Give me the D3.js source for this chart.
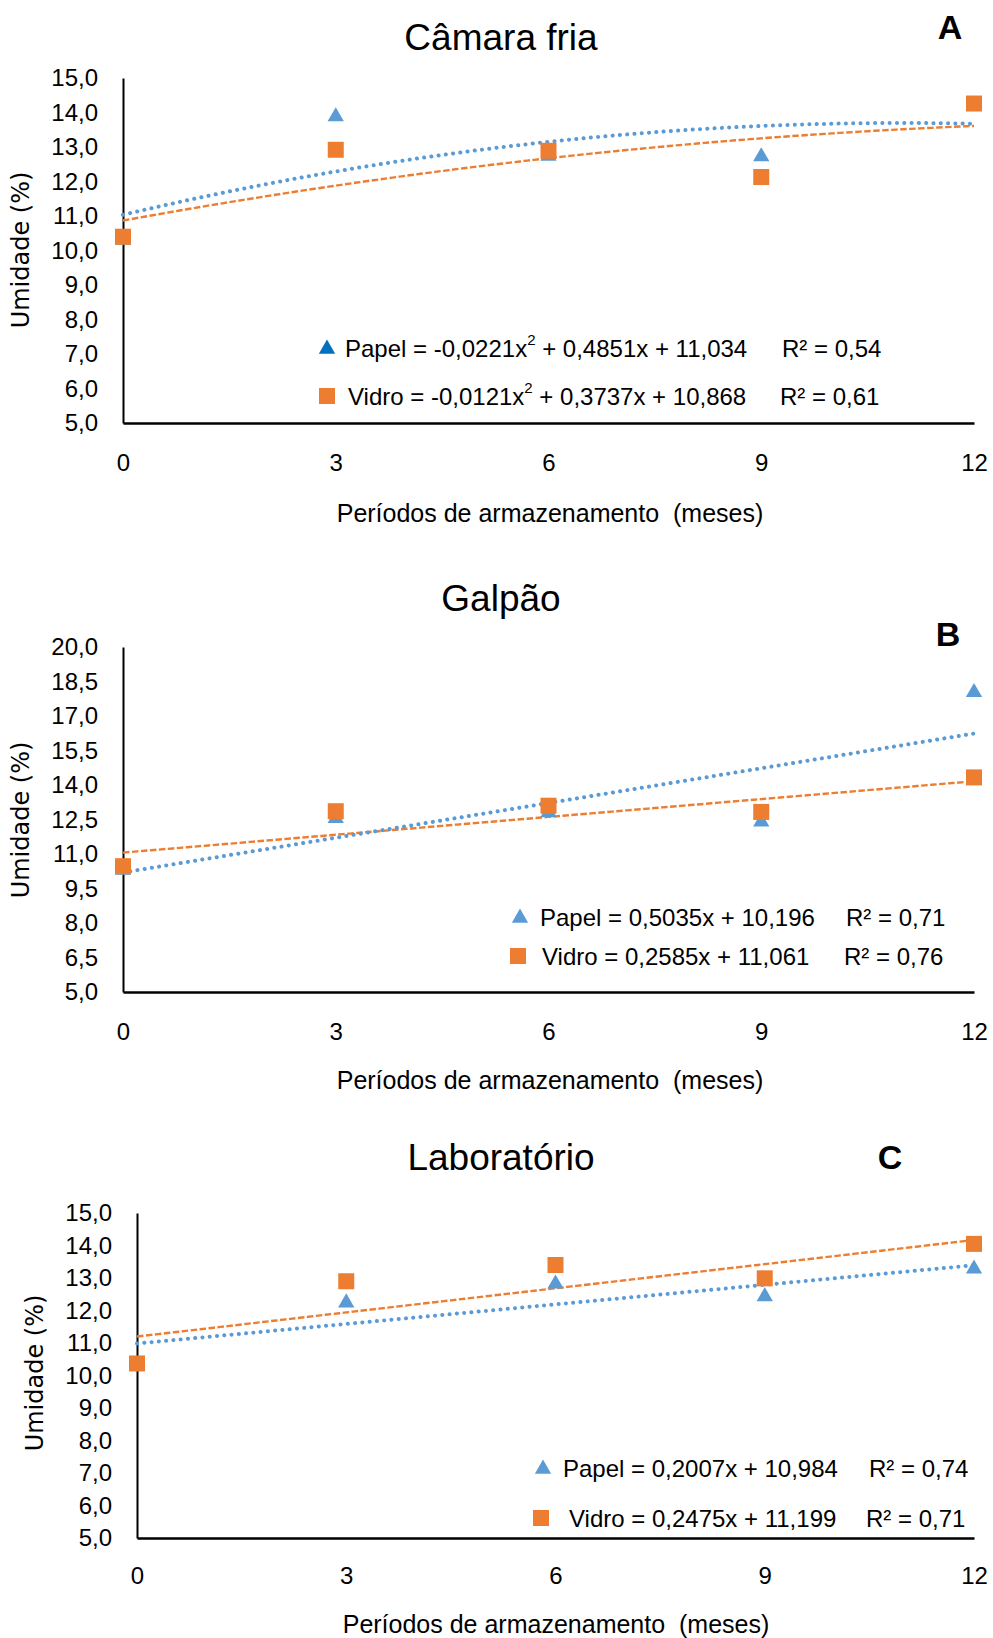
<!DOCTYPE html>
<html>
<head>
<meta charset="utf-8">
<script src="https://cdn.jsdelivr.net/npm/d3@7"></script>
<style>
  html, body { margin: 0; padding: 0; background: #fff; }
  svg { display: block; font-family: "Liberation Sans", Arial, sans-serif; }
  .pre { white-space: pre; }
</style>
</head>
<body>
<svg id="chart" width="993" height="1638"></svg>
<script>
// ---------- DATA ----------
const months = [0, 3, 6, 9, 12];
const xTickLabels = ["0", "3", "6", "9", "12"];

// Panel A: Câmara fria
const camaraPapel = [10.3, 13.88, 12.74, 12.72, 14.2];
const camaraVidro = [10.4, 12.92, 12.89, 12.13, 14.26];
const camaraPapelTrend = [-0.0221, 0.4851, 11.034]; // a x² + b x + c
const camaraVidroTrend = [-0.0121, 0.3737, 10.868];
const camaraYTicks = [5, 6, 7, 8, 9, 10, 11, 12, 13, 14, 15];

// Panel B: Galpão
const galpaoPapel = [10.3, 12.55, 12.8, 12.4, 18.03];
const galpaoVidro = [10.47, 12.86, 13.1, 12.83, 14.33];
const galpaoPapelTrend = [0, 0.5035, 10.196];
const galpaoVidroTrend = [0, 0.2585, 11.061];
const galpaoYTicks = [5, 6.5, 8, 9.5, 11, 12.5, 14, 15.5, 17, 18.5, 20];

// Panel C: Laboratório
const labPapel = [10.3, 12.24, 12.82, 12.43, 13.28];
const labVidro = [10.37, 12.9, 13.4, 12.99, 14.05];
const labPapelTrend = [0, 0.2007, 10.984];
const labVidroTrend = [0, 0.2475, 11.199];
const labYTicks = [5, 6, 7, 8, 9, 10, 11, 12, 13, 14, 15];

// legend texts
const legendA = [
  { pre: "Papel = -0,0221x", sup: "2", post: " + 0,4851x + 11,034", r2: "R² = 0,54" },
  { pre: "Vidro = -0,0121x", sup: "2", post: " + 0,3737x + 10,868", r2: "R² = 0,61" }
];
const legendB = [
  { pre: "Papel = 0,5035x + 10,196", sup: "", post: "", r2: "R² = 0,71" },
  { pre: "Vidro = 0,2585x + 11,061", sup: "", post: "", r2: "R² = 0,76" }
];
const legendC = [
  { pre: "Papel = 0,2007x + 10,984", sup: "", post: "", r2: "R² = 0,74" },
  { pre: "Vidro = 0,2475x + 11,199", sup: "", post: "", r2: "R² = 0,71" }
];

// ---------- STYLE ----------
const BLUE = "#5B9BD5";
const DARKBLUE = "#0070C0";
const ORANGE = "#ED7D31";

const svg = d3.select("#chart");

function drawPanel(cfg) {
  const g = svg.append("g");
  const x = d3.scaleLinear().domain([0, 12]).range([cfg.left, cfg.right]);
  const y = d3.scaleLinear().domain([5, cfg.yMax]).range([cfg.bottom, cfg.top]);

  // Title
  g.append("text").attr("x", cfg.titleX).attr("y", cfg.titleY)
    .attr("text-anchor", "middle").attr("dominant-baseline", "central")
    .attr("font-size", 37).attr("fill", "#000").text(cfg.title);
  g.append("text").attr("x", cfg.letterX).attr("y", cfg.letterY)
    .attr("text-anchor", "middle").attr("dominant-baseline", "central")
    .attr("font-size", 34).attr("font-weight", "bold").attr("fill", "#000").text(cfg.letter);

  // Y axis
  const yAxis = d3.axisLeft(y).tickValues(cfg.yTicks).tickSize(0).tickPadding(25)
    .tickFormat(d => d3.format(".1f")(d).replace(".", ","));
  const ya = g.append("g").attr("transform", `translate(${cfg.left},0)`).call(yAxis);
  ya.select(".domain").attr("stroke", "#000").attr("stroke-width", 2);
  ya.selectAll("text").attr("font-size", 24).attr("fill", "#000")
    .attr("font-family", "Liberation Sans, Arial, sans-serif");

  // X axis
  const xAxis = d3.axisBottom(x).tickValues(months).tickSize(0).tickPadding(0)
    .tickFormat((d, i) => xTickLabels[i]);
  const xa = g.append("g").attr("transform", `translate(0,${cfg.bottom})`).call(xAxis);
  xa.select(".domain").attr("stroke", "#000").attr("stroke-width", 2.5);
  xa.selectAll("text").attr("font-size", 24).attr("fill", "#000")
    .attr("font-family", "Liberation Sans, Arial, sans-serif")
    .attr("dy", null).attr("y", cfg.xTickY - cfg.bottom)
    .attr("dominant-baseline", "central");

  // Axis titles
  g.append("text")
    .attr("transform", `translate(${cfg.yLabelX},${cfg.yLabelY}) rotate(-90)`)
    .attr("text-anchor", "middle").attr("dominant-baseline", "central")
    .attr("font-size", 24).attr("font-family", "DejaVu Sans, sans-serif")
    .attr("fill", "#000").text("Umidade (%)");
  g.append("text").attr("class", "pre").attr("x", cfg.xTitleX).attr("y", cfg.xTitleY)
    .attr("text-anchor", "middle").attr("dominant-baseline", "central")
    .attr("font-size", 25).attr("fill", "#000")
    .text("Períodos de armazenamento  (meses)");

  // Trendlines
  const samples = d3.range(0, 12.0001, 0.1);
  const poly = c => t => c[0] * t * t + c[1] * t + c[2];
  const line = d3.line().x(d => x(d[0])).y(d => y(d[1]));
  const fP = poly(cfg.papelTrend), fV = poly(cfg.vidroTrend);
  g.append("path").datum(samples.map(t => [t, fV(t)]))
    .attr("d", line).attr("fill", "none").attr("stroke", ORANGE)
    .attr("stroke-width", 2.4).attr("stroke-dasharray", "6.5 2.5");
  g.append("path").datum(samples.map(t => [t, fP(t)]))
    .attr("d", line).attr("fill", "none").attr("stroke", BLUE)
    .attr("stroke-width", 4).attr("stroke-linecap", "round")
    .attr("stroke-dasharray", "0.1 7.2");

  // Markers
  const tri = d3.symbol().type(d3.symbolTriangle).size(115);
  g.selectAll(".tri").data(months.map((m, i) => [m, cfg.papel[i]])).enter()
    .append("path").attr("class", "tri")
    .attr("transform", d => `translate(${x(d[0])},${y(d[1])})`)
    .attr("d", tri).attr("fill", BLUE);
  const s = 16;
  g.selectAll(".sq").data(months.map((m, i) => [m, cfg.vidro[i]])).enter()
    .append("rect").attr("class", "sq")
    .attr("x", d => x(d[0]) - s / 2).attr("y", d => y(d[1]) - s / 2)
    .attr("width", s).attr("height", s).attr("fill", ORANGE);

  // Legend
  cfg.legend.forEach((L, i) => {
    const ly = cfg.legRows[i];
    if (i === 0) {
      g.append("path").attr("transform", `translate(${cfg.legMarkX[0]},${ly + 1})`)
        .attr("d", tri).attr("fill", cfg.legTriColor);
    } else {
      g.append("rect").attr("x", cfg.legMarkX[1] - 8).attr("y", ly - 8)
        .attr("width", 16).attr("height", 16).attr("fill", ORANGE);
    }
    const t = g.append("text").attr("x", cfg.legTextX[i]).attr("y", ly)
      .attr("dominant-baseline", "central").attr("font-size", 24).attr("fill", "#000");
    t.append("tspan").text(L.pre);
    if (L.sup) {
      t.append("tspan").attr("font-size", 15).attr("dy", -9).text(L.sup);
      t.append("tspan").attr("dy", 9).text(L.post);
    }
    g.append("text").attr("x", cfg.legR2X[i]).attr("y", ly)
      .attr("dominant-baseline", "central").attr("font-size", 24).attr("fill", "#000")
      .text(L.r2);
  });
}

drawPanel({
  title: "Câmara fria", letter: "A",
  left: 123, right: 974, top: 78, bottom: 423, yMax: 15, yTicks: camaraYTicks,
  papel: camaraPapel, vidro: camaraVidro,
  papelTrend: camaraPapelTrend, vidroTrend: camaraVidroTrend,
  titleX: 501, titleY: 37, letterX: 950, letterY: 27,
  yLabelX: 21, yLabelY: 250, xTickY: 462, xTitleX: 550, xTitleY: 513,
  legend: legendA, legRows: [348, 396], legMarkX: [327, 327], legTextX: [345, 348],
  legR2X: [782, 780], legTriColor: DARKBLUE
});

drawPanel({
  title: "Galpão", letter: "B",
  left: 123, right: 974, top: 647, bottom: 992, yMax: 20, yTicks: galpaoYTicks,
  papel: galpaoPapel, vidro: galpaoVidro,
  papelTrend: galpaoPapelTrend, vidroTrend: galpaoVidroTrend,
  titleX: 501, titleY: 598, letterX: 948, letterY: 634,
  yLabelX: 21, yLabelY: 820, xTickY: 1031, xTitleX: 550, xTitleY: 1080,
  legend: legendB, legRows: [917, 956], legMarkX: [520, 518], legTextX: [540, 542],
  legR2X: [846, 844], legTriColor: BLUE
});

drawPanel({
  title: "Laboratório", letter: "C",
  left: 137, right: 974, top: 1213, bottom: 1538, yMax: 15, yTicks: labYTicks,
  papel: labPapel, vidro: labVidro,
  papelTrend: labPapelTrend, vidroTrend: labVidroTrend,
  titleX: 501, titleY: 1157, letterX: 890, letterY: 1157,
  yLabelX: 35, yLabelY: 1373, xTickY: 1575, xTitleX: 556, xTitleY: 1624,
  legend: legendC, legRows: [1468, 1518], legMarkX: [543, 541], legTextX: [563, 569],
  legR2X: [869, 866], legTriColor: BLUE
});
</script>
</body>
</html>
